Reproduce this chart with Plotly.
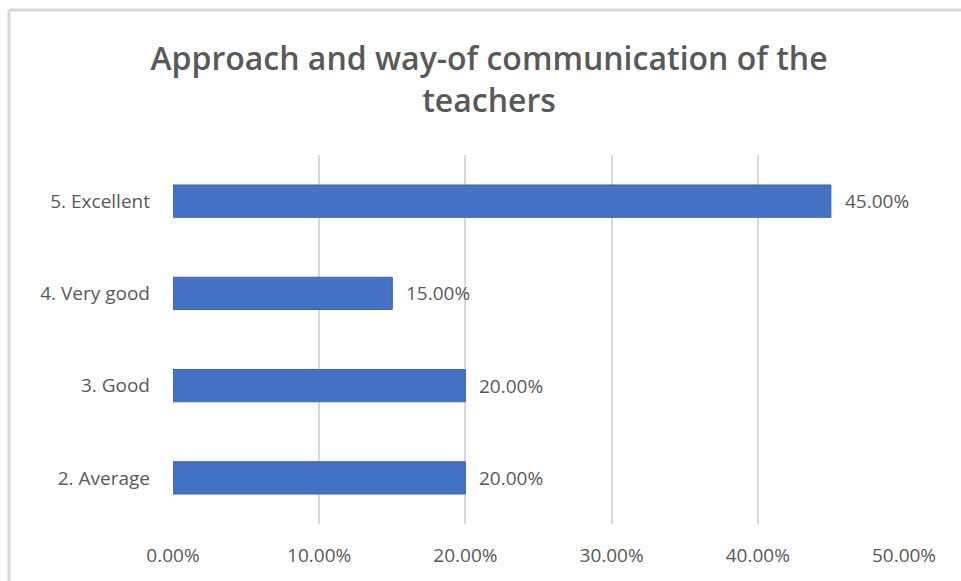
import plotly.graph_objects as go

categories = ["2. Average", "3. Good", "4. Very good", "5. Excellent"]
values = [0.20, 0.20, 0.15, 0.45]
tick_vals = [0, 0.1, 0.2, 0.3, 0.4, 0.5]
tick_text = ["0.00%", "10.00%", "20.00%", "30.00%", "40.00%", "50.00%"]
title_text = "Approach and way-of communication of the<br>teachers"

W, H = 961, 581
L, R, T, B = 173, 57, 155, 57
pw, ph = W - L - R, H - T - B
FONT = "Open Sans"
GRAY = "#595959"

fig = go.Figure(go.Bar(
    y=categories, x=values, orientation="h",
    marker=dict(color="#4472C4", line=dict(color="#3b65b0", width=1)),
    width=0.35,
    hoverinfo="x+y",
))

annotations = [
    dict(x=v, y=c, xref="x", yref="y", text=f"{v*100:.2f}%", showarrow=False,
         xanchor="left", yanchor="middle", xshift=12,
         font=dict(family=FONT, size=19, color=GRAY))
    for c, v in zip(categories, values)
]

def px_x(p):
    return (p - L) / pw

def px_y(p):
    return (H - B - p) / ph

fig.update_layout(
    width=W, height=H,
    margin=dict(l=L, r=R, t=T, b=B),
    paper_bgcolor="white", plot_bgcolor="white",
    showlegend=False,
    annotations=annotations,
    title=dict(text=title_text, x=489 / W, xanchor="center", y=1 - 70 / H, yanchor="middle",
               font=dict(family=FONT, size=32, color=GRAY, weight=600)),
    xaxis=dict(range=[0, 0.5], tickvals=tick_vals, ticktext=tick_text,
               showgrid=True, gridcolor="#d9d9d9", gridwidth=2,
               zeroline=False, showline=False, ticks="",
               tickfont=dict(family=FONT, size=19, color=GRAY),
               ticklabelstandoff=18),
    yaxis=dict(showgrid=False, zeroline=False, showline=False, ticks="",
               tickfont=dict(family=FONT, size=19, color=GRAY),
               ticklabelstandoff=22, range=[-0.5, 3.5]),
    shapes=[
        dict(type="line", xref="paper", yref="paper", x0=px_x(9), x1=px_x(W), y0=px_y(10), y1=px_y(10),
             line=dict(color="#d9d9d9", width=3)),
        dict(type="line", xref="paper", yref="paper", x0=px_x(9), x1=px_x(9), y0=px_y(10), y1=px_y(H),
             line=dict(color="#d9d9d9", width=3)),
    ],
)

fig.write_html("out.html", config={"displayModeBar": False},
               post_script="document.body.style.margin='0';document.body.style.overflow='hidden';")
